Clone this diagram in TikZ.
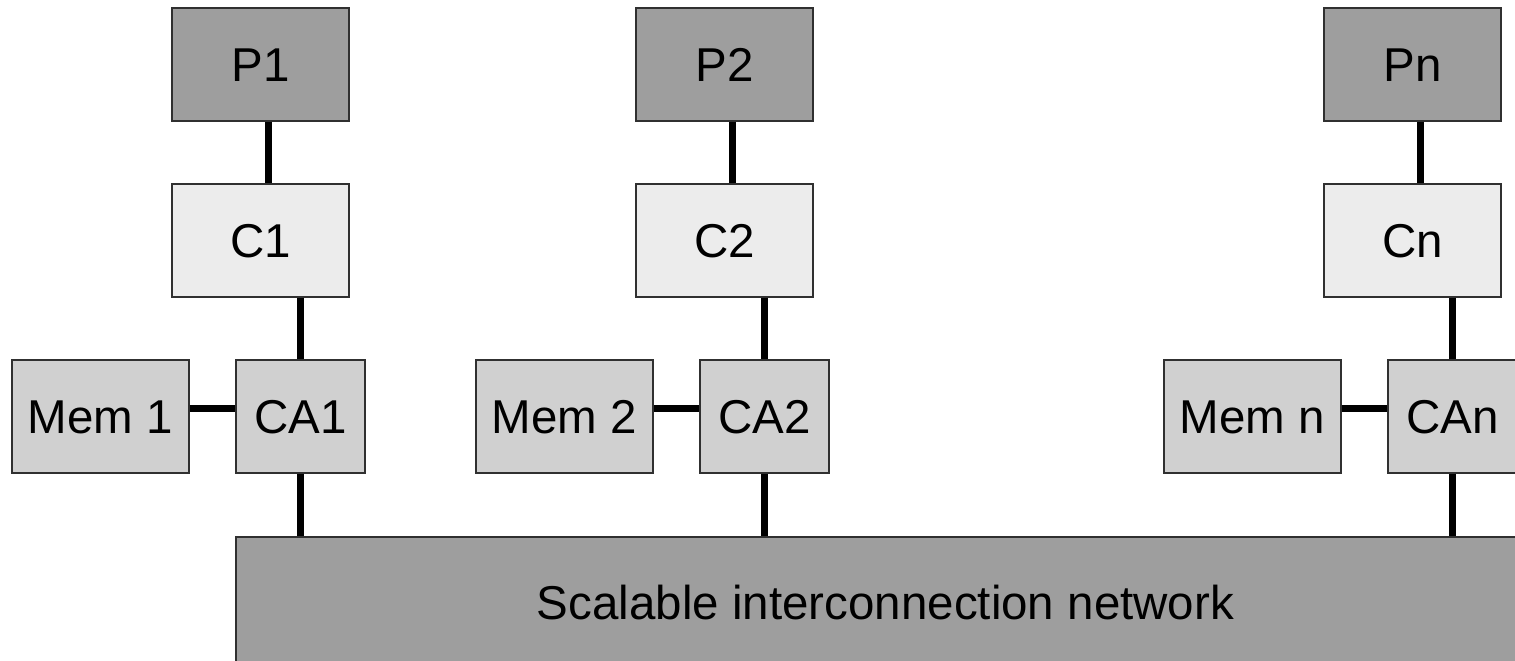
\documentclass[tikz,border=0pt]{standalone}
\usepackage{fontspec}
\setmainfont{Liberation Sans}
\definecolor{pgray}{HTML}{9E9E9E}
\definecolor{cgray}{HTML}{ECECEC}
\definecolor{mgray}{HTML}{D0D0D0}
\definecolor{edgegray}{HTML}{303030}
\begin{document}
\begin{tikzpicture}[x=1pt,y=-1pt,
  box/.style={draw=edgegray,line width=1.2pt,inner sep=0pt,
    text height=34pt,text depth=0pt,
    font=\fontsize{47.5}{57}\selectfont},
  pbox/.style={box,fill=pgray,minimum width=177pt,minimum height=113pt},
  cbox/.style={box,fill=cgray,minimum width=177pt,minimum height=113pt},
  mbox/.style={box,fill=mgray,minimum width=177pt,minimum height=113pt},
  abox/.style={box,fill=mgray,minimum width=129pt,minimum height=113pt},
  netbox/.style={box,fill=pgray,minimum width=1299pt,minimum height=130pt},
  wire/.style={line width=7pt,black}]
\useasboundingbox (0,0) rectangle (1515,661);
\begin{scope}
\clip (0,0) rectangle (1515,661);
\node[netbox] (net) at (885.5,602) {Scalable interconnection network};
\foreach \i/\lab/\mem/\dx in {1/1/Mem 1/0, 2/2/Mem 2/464, n/n/Mem n/1152}{
  \node[pbox] (P\i) at (260.5+\dx,64.5) {P\lab};
  \node[cbox] (C\i) at (260.5+\dx,240.5) {C\lab};
  \node[mbox] (M\i) at (100.5+\dx,416.5) {\mem};
  \node[abox] (CA\i) at (300.5+\dx,416.5) {CA\lab};
  \draw[wire] ([xshift=7.5pt]P\i.south) -- ([xshift=7.5pt]C\i.north);
  \draw[wire] ([xshift=40pt]C\i.south) -- (CA\i.north);
  \draw[wire] ([yshift=8.5pt]M\i.east) -- ([yshift=8.5pt]CA\i.west);
  \draw[wire] (CA\i.south) -- (CA\i.south |- net.north);
}
\end{scope}
\end{tikzpicture}
\end{document}
